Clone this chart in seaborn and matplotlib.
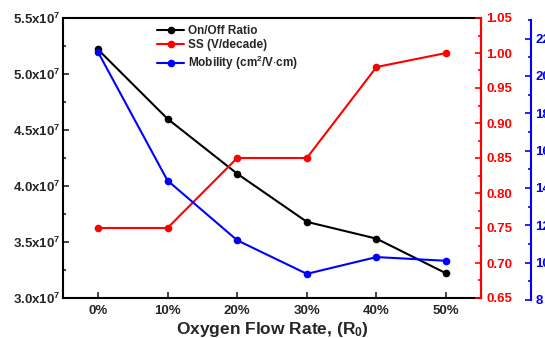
import matplotlib
matplotlib.use("Agg")
import matplotlib.pyplot as plt
from matplotlib.ticker import MultipleLocator, FuncFormatter
import seaborn as sns
import pandas as pd

# Measured device parameters versus oxygen flow rate
flow_rates = ["0%", "10%", "20%", "30%", "40%", "50%"]
on_off_ratio = [5.22e7, 4.60e7, 4.11e7, 3.68e7, 3.53e7, 3.22e7]
ss_values = [0.75, 0.75, 0.85, 0.85, 0.98, 1.00]
mobility = [21.3, 14.4, 11.2, 9.4, 10.3, 10.1]

sns.set_style("ticks")
plt.rcParams["font.family"] = ["Liberation Sans", "DejaVu Sans"]
plt.rcParams["font.weight"] = "bold"
plt.rcParams["mathtext.fontset"] = "custom"
plt.rcParams["mathtext.rm"] = "Liberation Sans:bold"
plt.rcParams["mathtext.it"] = "Liberation Sans:bold"
plt.rcParams["mathtext.bf"] = "Liberation Sans:bold"

df = pd.DataFrame({"flow": flow_rates, "ratio": on_off_ratio,
                   "ss": ss_values, "mob": mobility})

W, H = 545, 338
fig = plt.figure(figsize=(W / 100, H / 100), dpi=100)
L, R, T, B = 63, 481, 18, 298
ax = fig.add_axes([L / W, 1 - B / H, (R - L) / W, (B - T) / H])
ax2 = ax.twinx()
# mobility axis sits slightly lower and further right
ax3 = fig.add_axes([L / W, 1 - 300 / H, (R - L) / W, 280 / H], sharex=ax)
ax3.patch.set_visible(False)

lw, ms = 1.5, 5.5
sns.lineplot(data=df, x="flow", y="ratio", ax=ax, color="black", marker="o",
             markersize=ms, markeredgewidth=0, linewidth=lw, sort=False,
             label="On/Off Ratio", legend=False)
sns.lineplot(data=df, x="flow", y="ss", ax=ax2, color="red", marker="o",
             markersize=ms, markeredgewidth=0, linewidth=lw, sort=False,
             label="SS (V/decade)", legend=False)
sns.lineplot(data=df, x="flow", y="mob", ax=ax3, color="blue", marker="o",
             markersize=ms, markeredgewidth=0, linewidth=lw, sort=False,
             label="Mobility (cm$^2$/V$\\cdot$cm)", legend=False)

ax.set_xlim(-0.5, 5.5)
ax.set_ylim(3.0e7, 5.5e7)
ax2.set_ylim(0.65, 1.05)
ax3.set_ylim(8, 23)

tick_fs = 9.5

# left axis
ax.yaxis.set_major_locator(MultipleLocator(0.5e7))
ax.yaxis.set_minor_locator(MultipleLocator(0.25e7))
ax.yaxis.set_major_formatter(FuncFormatter(lambda v, p: f"{v / 1e7:.1f}x10$^{{7}}$"))
ax.tick_params(axis="y", which="both", direction="in", pad=2, labelsize=tick_fs)
ax.tick_params(axis="y", which="major", length=4, width=1.2)
ax.tick_params(axis="y", which="minor", length=2.5, width=1.2)
ax.tick_params(axis="x", direction="in", length=4, width=1.2, pad=5, labelsize=tick_fs)
ax.set_xlabel("Oxygen Flow Rate, (R$_0$)", fontsize=12.5, fontweight="bold", labelpad=2)
ax.set_ylabel("")
for s in ax.spines.values():
    s.set_linewidth(1.5)
    s.set_color("black")

# SS axis
ax2.yaxis.set_major_locator(MultipleLocator(0.05))
ax2.yaxis.set_minor_locator(MultipleLocator(0.025))
ax2.yaxis.set_major_formatter(FuncFormatter(lambda v, p: f"{v:.2f}"))
ax2.tick_params(axis="y", which="both", direction="in", colors="red", pad=4,
                labelsize=tick_fs, width=1.2)
ax2.tick_params(axis="y", which="major", length=4)
ax2.tick_params(axis="y", which="minor", length=2.5)
ax2.spines["right"].set_color("red")
ax2.spines["right"].set_linewidth(1.5)
for side in ("left", "top", "bottom"):
    ax2.spines[side].set_visible(False)
ax2.set_ylabel("")

# mobility axis
for side in ("left", "top", "bottom"):
    ax3.spines[side].set_visible(False)
ax3.spines["right"].set_position(("axes", 1.12))
ax3.spines["right"].set_color("blue")
ax3.spines["right"].set_linewidth(1.5)
ax3.yaxis.set_ticks_position("right")
ax3.yaxis.set_label_position("right")
ax3.yaxis.set_major_locator(MultipleLocator(2))
ax3.yaxis.set_minor_locator(MultipleLocator(1))
ax3.tick_params(axis="y", which="both", direction="in", colors="blue", pad=3,
                labelsize=tick_fs, width=1.2)
ax3.tick_params(axis="y", which="major", length=4)
ax3.tick_params(axis="y", which="minor", length=2.5)
ax3.tick_params(axis="x", which="both", bottom=False, labelbottom=False)
ax3.set_xlabel("")
ax3.set_ylabel("")

for lab in ax.get_xticklabels() + ax.get_yticklabels() + ax2.get_yticklabels() + ax3.get_yticklabels():
    lab.set_fontweight("bold")

handles = [ax.get_lines()[0], ax2.get_lines()[0], ax3.get_lines()[0]]
leg = ax.legend(handles=handles, labels=[h.get_label() for h in handles],
                loc="upper left", bbox_to_anchor=(0.205, 1.005), frameon=False,
                fontsize=8.5, handlelength=2.3, handletextpad=0.3,
                labelspacing=0.2, borderaxespad=0.3)
for t in leg.get_texts():
    t.set_fontweight("bold")

fig.savefig("out.png", dpi=100)
